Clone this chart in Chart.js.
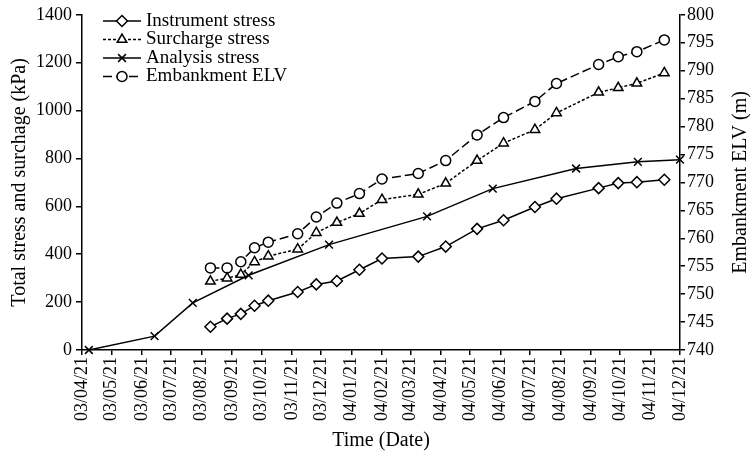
<!DOCTYPE html>
<html>
<head>
<meta charset="utf-8">
<script src="https://cdn.jsdelivr.net/npm/chart.js@4.4.1/dist/chart.umd.min.js"></script>
<style>
  body { margin: 0; background: #fff; }
  #wrap { width: 752px; height: 459px; position: relative; }
</style>
</head>
<body>
<div id="wrap"><canvas id="chart"></canvas></div>
<script>
// dates are yy/mm/dd, same as the axis labels
const startDate = '03/04/21';
const xTickLabels = ['03/04/21', '03/05/21', '03/06/21', '03/07/21', '03/08/21', '03/09/21', '03/10/21',
  '03/11/21', '03/12/21', '04/01/21', '04/02/21', '04/03/21', '04/04/21', '04/05/21', '04/06/21',
  '04/07/21', '04/08/21', '04/09/21', '04/10/21', '04/11/21', '04/12/21'];

// measurement dates shared by instrument, surcharge and embankment series
const measureDates = ['03/08/30', '03/09/16', '03/09/30', '03/10/14', '03/10/28', '03/11/27', '03/12/16',
  '04/01/06', '04/01/29', '04/02/21', '04/03/29', '04/04/26', '04/05/28', '04/06/24', '04/07/26',
  '04/08/17', '04/09/29', '04/10/19', '04/11/07', '04/12/05'];
const instrumentStress = [97, 131, 151, 185, 206, 242, 274, 288, 335, 382, 390, 432, 506, 542, 597, 632, 676, 697, 701, 711];
const surchargeStress = [287, 300, 315, 368, 392, 421, 490, 532, 570, 628, 650, 696, 791, 864, 920, 990, 1076, 1095, 1114, 1157];
const embankmentElv = [754.7, 754.7, 755.8, 758.3, 759.3, 760.8, 763.8, 766.3, 768.0, 770.6, 771.6, 773.9, 778.5, 781.6, 784.5, 787.7, 791.1, 792.5, 793.4, 795.5];

const analysisDates = ['03/04/28', '03/07/04', '03/08/12', '03/10/08', '03/12/29', '04/04/07', '04/06/13', '04/09/06', '04/11/08', '04/12/21'];
const analysisStress = [0, 58, 197, 312, 440, 558, 674, 758, 786, 795];

const rightTitle = 'Embankment ELV (m)';

function toDay(s) {
  const p = s.split('/').map(Number);
  const q = startDate.split('/').map(Number);
  return (Date.UTC(2000 + p[0], p[1] - 1, p[2]) - Date.UTC(2000 + q[0], q[1] - 1, q[2])) / 864e5;
}
const pts = (dates, vals) => dates.map((d, i) => ({ x: toDay(d), y: vals[i] }));

const serif = 'Liberation Serif';
const tickFont = { family: serif, size: 18 };
const titleFont = { family: serif, size: 20 };

const common = {
  borderColor: '#000', borderWidth: 1.5,
  pointBorderColor: '#000', pointBackgroundColor: '#fff', pointBorderWidth: 1.5,
  pointRadius: 5, tension: 0, clip: false, fill: false
};

// legend with line + marker samples, top left inside the plot
const legendPlugin = {
  id: 'sampleLegend',
  afterDraw(chart) {
    const ctx = chart.ctx;
    chart.data.datasets.forEach((ds, i) => {
      const y = 21 + i * 18.5;
      ctx.save();
      ctx.strokeStyle = '#000';
      ctx.lineWidth = 1.5;
      ctx.setLineDash(ds.borderDash || []);
      ctx.beginPath();
      ctx.moveTo(103, y);
      ctx.lineTo(141, y);
      ctx.stroke();
      ctx.setLineDash([]);
      ctx.fillStyle = '#fff';
      Chart.helpers.drawPoint(ctx, { pointStyle: ds.pointStyle, radius: ds.pointRadius, borderWidth: 1.5, rotation: 0 }, 122, y);
      ctx.fillStyle = '#000';
      ctx.font = '19px "' + serif + '"';
      ctx.textBaseline = 'middle';
      ctx.fillText(ds.label, 146, y);
      ctx.restore();
    });
  }
};

// right axis title reads bottom-to-top like the left one
const rightTitlePlugin = {
  id: 'rightTitle',
  afterDraw(chart) {
    const ctx = chart.ctx;
    const a = chart.chartArea;
    ctx.save();
    ctx.translate(741, (a.top + a.bottom) / 2);
    ctx.rotate(-Math.PI / 2);
    ctx.fillStyle = '#000';
    ctx.font = '20px "' + serif + '"';
    ctx.textAlign = 'center';
    ctx.textBaseline = 'middle';
    ctx.fillText(rightTitle, 0, 0);
    ctx.restore();
  }
};

new Chart(document.getElementById('chart'), {
  type: 'line',
  data: {
    datasets: [
      { ...common, label: 'Instrument stress', data: pts(measureDates, instrumentStress), pointStyle: 'rectRot', pointRadius: 5.5, yAxisID: 'y' },
      { ...common, label: 'Surcharge stress', data: pts(measureDates, surchargeStress), pointStyle: 'triangle', pointRadius: 5.5, borderDash: [3, 2], yAxisID: 'y' },
      { ...common, label: 'Analysis stress', data: pts(analysisDates, analysisStress), pointStyle: 'crossRot', pointRadius: 5.5, yAxisID: 'y' },
      { ...common, label: 'Embankment ELV', data: pts(measureDates, embankmentElv), pointStyle: 'circle', pointRadius: 5, borderDash: [9, 4], yAxisID: 'y1' }
    ]
  },
  options: {
    responsive: true,
    maintainAspectRatio: false,
    animation: false,
    layout: { padding: { top: 14, left: 0, right: 0, bottom: 0 } },
    plugins: { legend: { display: false }, tooltip: { enabled: false } },
    scales: {
      x: {
        type: 'linear',
        min: 0,
        max: toDay(xTickLabels[xTickLabels.length - 1]),
        afterBuildTicks: scale => { scale.ticks = xTickLabels.map(l => ({ value: toDay(l) })); },
        afterFit: scale => { scale.height = 109; },
        grid: { drawOnChartArea: false, color: '#000', tickLength: 5, lineWidth: 1.5 },
        border: { color: '#000', width: 1.5 },
        ticks: {
          autoSkip: false, maxRotation: 90, minRotation: 90, padding: 2,
          color: '#000', font: tickFont,
          callback: (v, i) => xTickLabels[i]
        },
        title: { display: true, text: 'Time (Date)', color: '#000', font: titleFont, padding: { top: 0, bottom: 6 } }
      },
      y: {
        position: 'left',
        min: 0, max: 1400,
        afterFit: scale => { scale.width = 82; },
        grid: { drawOnChartArea: false, color: '#000', tickLength: 6, lineWidth: 1.5 },
        border: { color: '#000', width: 1.5 },
        ticks: { stepSize: 200, padding: 4, color: '#000', font: tickFont, callback: v => String(v) },
        title: { display: true, text: 'Total stress and surchage (kPa)', color: '#000', font: titleFont, padding: { top: 8, bottom: 0 } }
      },
      y1: {
        position: 'right',
        min: 740, max: 800,
        afterFit: scale => { scale.width = 72; },
        grid: { drawOnChartArea: false, color: '#000', tickLength: 5, lineWidth: 1.5 },
        border: { color: '#000', width: 1.5 },
        ticks: { stepSize: 5, padding: 2, color: '#000', font: tickFont, callback: v => String(v) },
        title: { display: false }
      }
    }
  },
  plugins: [legendPlugin, rightTitlePlugin]
});
</script>
</body>
</html>
